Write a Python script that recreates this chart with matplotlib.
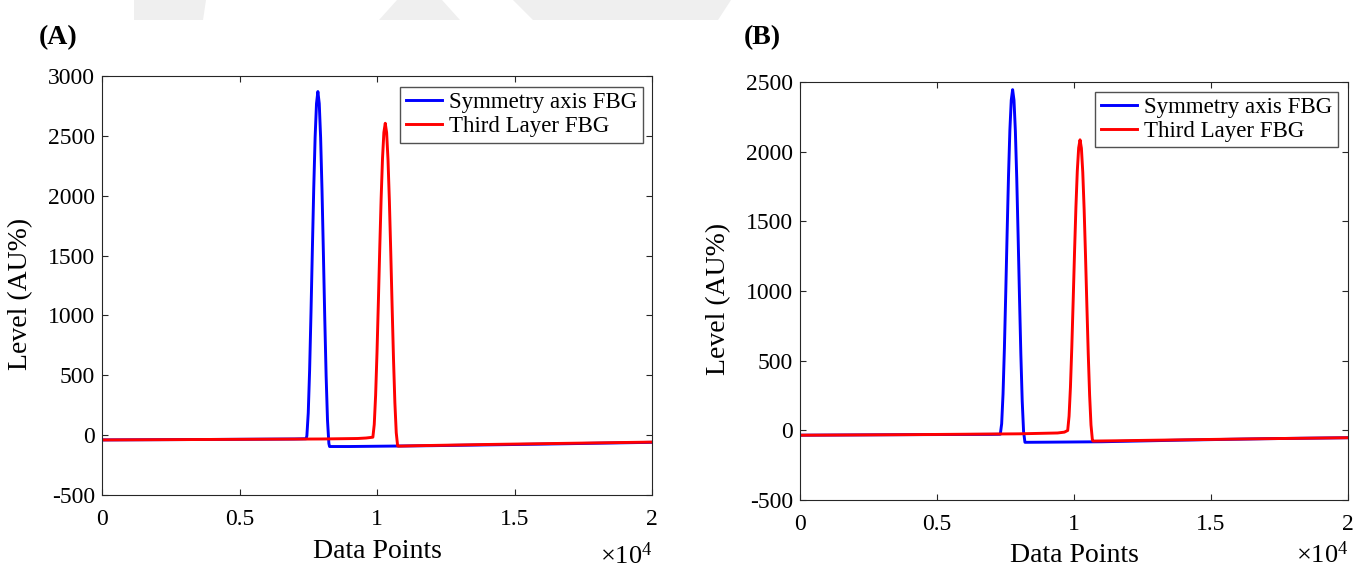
import matplotlib
matplotlib.use("Agg")
import matplotlib.pyplot as plt
from matplotlib.patches import Polygon

plt.rcParams['font.family'] = ['Liberation Serif', 'DejaVu Serif']
plt.rcParams['mathtext.fontset'] = 'custom'
plt.rcParams['mathtext.rm'] = 'Liberation Serif'
plt.rcParams['axes.unicode_minus'] = False

# panel A
a_x_blue = [0, 4000, 7000, 7425, 7450, 7500, 7550, 7600, 7650, 7700, 7750, 7800, 7850,
            7900, 7950, 8000, 8050, 8100, 8150, 8200, 8250, 8275, 9000, 12000, 16000, 20000]
a_y_blue = [-40, -36, -32, -30, -5, 185, 545, 1025, 1555, 2065, 2490, 2770, 2870,
            2770, 2485, 2050, 1525, 980, 495, 125, -70, -95, -95, -88, -75, -60]
a_x_red = [0, 4000, 8000, 9300, 9600, 9750, 9850, 9900, 9950, 10000, 10050, 10100, 10150,
           10200, 10250, 10300, 10350, 10400, 10450, 10500, 10550, 10600, 10650, 10700,
           10750, 10770, 11500, 14000, 17000, 20000]
a_y_red = [-40, -36, -32, -28, -24, -20, -17, 89, 334, 689, 1114, 1560, 1974,
           2310, 2529, 2605, 2527, 2302, 1957, 1531, 1073, 637, 271, 20,
           -89, -92, -88, -78, -68, -58]

# panel B
b_x_blue = [0, 4000, 7000, 7310, 7360, 7410, 7460, 7510, 7560, 7610, 7660, 7710, 7760,
            7810, 7860, 7910, 7960, 8010, 8060, 8110, 8160, 8210, 9000, 11000, 14000, 17000, 20000]
b_y_blue = [-35, -31, -29, -28, 47, 261, 590, 994, 1423, 1827, 2156, 2370, 2445,
            2369, 2149, 1812, 1399, 960, 547, 210, -10, -86, -85, -82, -70, -60, -53]
b_x_red = [0, 4000, 8000, 9400, 9650, 9770, 9820, 9870, 9920, 9970, 10020, 10070, 10120,
           10170, 10220, 10270, 10320, 10370, 10420, 10470, 10520, 10570, 10620, 10670,
           10690, 11500, 14000, 17000, 20000]
b_y_red = [-35, -31, -25, -19, -13, -1, 102, 309, 597, 932, 1281, 1601, 1860,
           2027, 2085, 2025, 1852, 1586, 1255, 895, 549, 253, 39, -67,
           -77, -75, -68, -60, -53]

x_ticks = [0, 5000, 10000, 15000, 20000]
x_tick_labels = ['0', '0.5', '1', '1.5', '2']
a_y_ticks = [-500, 0, 500, 1000, 1500, 2000, 2500, 3000]
b_y_ticks = [-500, 0, 500, 1000, 1500, 2000, 2500]
series_names = ['Symmetry axis FBG', 'Third Layer FBG']

W, H = 1356, 569
fig = plt.figure(figsize=(W / 100, H / 100), dpi=100)

# faint watermark shapes along the top edge
for pts in [[(134, 0), (206, 0), (203, 20), (134, 20)],
            [(397, 0), (442, 0), (460, 20), (379, 20)],
            [(513, 0), (731, 0), (718, 20), (533, 20)]]:
    fig.patches.append(Polygon([(x / W, 1 - y / H) for x, y in pts], closed=True,
                               transform=fig.transFigure, facecolor='#efefef',
                               edgecolor='none', zorder=0))


def setup(ax, yticks, ylim, xlab_y, mult_y):
    ax.set_xlim(0, 20000)
    ax.set_ylim(*ylim)
    ax.set_xticks(x_ticks)
    ax.set_xticklabels(x_tick_labels)
    ax.set_yticks(yticks)
    ax.tick_params(direction='in', top=True, right=True, length=4.5, width=0.8,
                   labelsize=17, colors='#262626', labelcolor='black')
    ax.tick_params(axis='x', pad=10)
    ax.tick_params(axis='y', pad=5)
    for s in ax.spines.values():
        s.set_color('#262626')
        s.set_linewidth(0.8)
    ax.set_xlabel('Data Points', fontsize=20)
    ax.set_ylabel('Level (AU%)', fontsize=20)
    ax.xaxis.set_label_coords(0.5, xlab_y)
    ax.yaxis.set_label_coords(-0.125, 0.48)
    ax.text(1.0, mult_y, r'$\times\mathregular{10^{4}}$', transform=ax.transAxes,
            ha='right', va='center', fontsize=19)


leg_kw = dict(loc='upper right', borderaxespad=0, fontsize=16.5, frameon=True,
              fancybox=False, edgecolor='#262626', handlelength=1.6,
              handletextpad=0.3, borderpad=0.25, labelspacing=0.1)

axA = fig.add_axes([102 / W, 1 - 495 / H, 550 / W, 419 / H])
axA.plot(a_x_blue, a_y_blue, color='#0000ff', lw=2.1, label=series_names[0])
axA.plot(a_x_red, a_y_red, color='#ff0000', lw=2.1, label=series_names[1])
setup(axA, a_y_ticks, (-500, 3000), -0.105, -0.145)
axA.legend(bbox_to_anchor=(0.9836, 0.9745), **leg_kw)
fig.text(39 / W, 1 - 38 / H, '(A)', fontsize=20, fontweight='bold', va='center', ha='left')

axB = fig.add_axes([800 / W, 1 - 500 / H, 548 / W, 418 / H])
axB.plot(b_x_blue, b_y_blue, color='#0000ff', lw=2.1, label=series_names[0])
axB.plot(b_x_red, b_y_red, color='#ff0000', lw=2.1, label=series_names[1])
setup(axB, b_y_ticks, (-500, 2500), -0.103, -0.13)
axB.legend(bbox_to_anchor=(0.9818, 0.977), **leg_kw)
fig.text(744 / W, 1 - 38 / H, '(B)', fontsize=20, fontweight='bold', va='center', ha='left')

fig.savefig('out.png', dpi=100)
